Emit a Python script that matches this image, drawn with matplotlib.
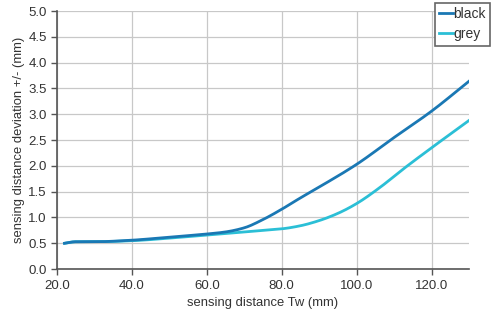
import matplotlib.pyplot as plt
import numpy as np

plt.rcParams['font.family'] = ['Liberation Sans', 'DejaVu Sans']

# values
x_black = [22, 25, 30, 40, 50, 60, 65, 70, 75, 80, 85, 90, 100, 110, 120, 130]
y_black = [0.50, 0.53, 0.53, 0.56, 0.62, 0.68, 0.72, 0.80, 0.96, 1.16, 1.38, 1.59, 2.03, 2.55, 3.06, 3.64]
x_grey = [22, 25, 30, 40, 50, 60, 65, 70, 75, 80, 85, 90, 95, 100, 106, 113, 120, 130]
y_grey = [0.50, 0.53, 0.53, 0.55, 0.60, 0.66, 0.69, 0.72, 0.75, 0.78, 0.84, 0.94, 1.08, 1.27, 1.57, 1.97, 2.35, 2.88]
xticks = [20, 40, 60, 80, 100, 120]
yticks = [0.0, 0.5, 1.0, 1.5, 2.0, 2.5, 3.0, 3.5, 4.0, 4.5, 5.0]


def smooth(x, y, n=300):
    # monotone cubic through the read points
    x = np.asarray(x, float)
    y = np.asarray(y, float)
    h = np.diff(x)
    d = np.diff(y) / h
    m = np.zeros_like(y)
    for i in range(1, len(y) - 1):
        if d[i - 1] * d[i] > 0:
            w1 = 2 * h[i] + h[i - 1]
            w2 = h[i] + 2 * h[i - 1]
            m[i] = (w1 + w2) / (w1 / d[i - 1] + w2 / d[i])
    m[0], m[-1] = d[0], d[-1]
    xs = np.linspace(x[0], x[-1], n)
    idx = np.clip(np.searchsorted(x, xs) - 1, 0, len(h) - 1)
    t = (xs - x[idx]) / h[idx]
    h00 = 2 * t**3 - 3 * t**2 + 1
    h10 = t**3 - 2 * t**2 + t
    h01 = -2 * t**3 + 3 * t**2
    h11 = t**3 - t**2
    ys = h00 * y[idx] + h10 * h[idx] * m[idx] + h01 * y[idx + 1] + h11 * h[idx] * m[idx + 1]
    return xs, ys


fig = plt.figure(figsize=(5, 3.25), dpi=100)
ax = fig.add_axes([0.114, 0.172, 0.824, 0.794])

xb, yb = smooth(x_black, y_black)
xg, yg = smooth(x_grey, y_grey)
ax.plot(xg, yg, color='#2bbfd6', lw=2, label='grey', zorder=3)
ax.plot(xb, yb, color='#1a78b4', lw=2, label='black', zorder=4)

ax.set_xlim(20, 130)
ax.set_ylim(0, 5)
ax.set_xticks(xticks)
ax.set_xticklabels([f'{v:.1f}' for v in xticks])
ax.set_yticks(yticks)
ax.set_yticklabels([f'{v:.1f}' for v in yticks])
ax.grid(True, color='#c8c8c8', lw=0.9)
ax.set_axisbelow(True)
for s in ['top', 'right']:
    ax.spines[s].set_visible(False)
for s in ['left', 'bottom']:
    ax.spines[s].set_color('#555555')
    ax.spines[s].set_linewidth(1.2)
ax.tick_params(colors='#555555', labelcolor='#333333', labelsize=9.5, length=4, width=1)
ax.set_xlabel('sensing distance Tw (mm)', fontsize=9.4, color='#333333', labelpad=4)
ax.set_ylabel('sensing distance deviation +/- (mm)', fontsize=9.4, color='#333333', labelpad=2)

h, l = ax.get_legend_handles_labels()
leg = fig.legend(h[::-1], l[::-1], loc='upper right', bbox_to_anchor=(0.98, 0.991),
                 fontsize=10, handlelength=1.0, handletextpad=0.05, borderpad=0.3,
                 labelspacing=0.45, borderaxespad=0, fancybox=False, framealpha=1)
leg.get_frame().set_edgecolor('#666666')
leg.get_frame().set_linewidth(1.2)
for t in leg.get_texts():
    t.set_color('#333333')

fig.savefig('out.png', dpi=100)
